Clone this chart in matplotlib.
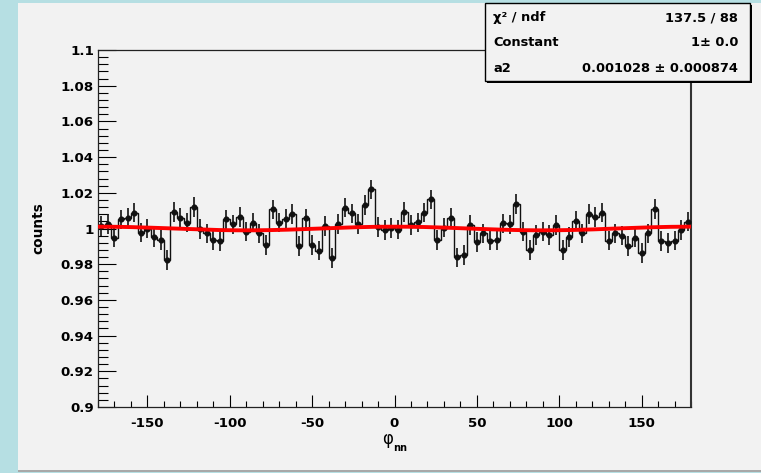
import numpy as np
import matplotlib
matplotlib.use("Agg")
import matplotlib.pyplot as plt
from matplotlib.patches import Rectangle
from matplotlib.ticker import MultipleLocator, FormatStrFormatter

# Histogram of phi_nn: 90 bins of 4 degrees from -180 to 180
bin_edges = np.arange(-180, 181, 4)
counts = [
    1.0014, 1.0025, 0.9949, 1.0051, 1.0061, 1.0089, 0.9977, 1.0000, 0.9950, 0.9936,
    0.9825, 1.0094, 1.0061, 1.0033, 1.0122, 0.9996, 0.9973, 0.9936, 0.9930, 1.0051,
    1.0023, 1.0066, 0.9983, 1.0033, 0.9973, 0.9908, 1.0107, 1.0033, 1.0052, 1.0081,
    0.9902, 1.0057, 0.9908, 0.9876, 1.0014, 0.9833, 1.0025, 1.0117, 1.0085, 1.0025,
    1.0132, 1.0219, 1.0007, 0.9992, 1.0003, 0.9994, 1.0094, 1.0020, 1.0034, 1.0089,
    1.0163, 0.9936, 1.0005, 1.0061, 0.9838, 0.9851, 1.0020, 0.9926, 0.9973, 0.9932,
    0.9936, 1.0029, 1.0023, 1.0137, 0.9983, 0.9880, 0.9964, 0.9983, 0.9964, 1.0020,
    0.9880, 0.9954, 1.0044, 0.9973, 1.0081, 1.0066, 1.0089, 0.9932, 0.9973, 0.9960,
    0.9902, 0.9949, 0.9861, 0.9973, 1.0109, 0.9930, 0.9917, 0.9932, 0.9992, 1.0039,
]
bin_error = 0.0055

# Fit result: Constant + a2*cos(2 phi)
fit_constant = 1.0
fit_a2 = 0.001028
fit_a2_err = 0.000874
chi2 = 137.5
ndf = 88

W, H = 761, 473
BG_OUTER = "#b6dfe3"
BG_PANEL = "#f2f2f2"

plt.rcParams["font.family"] = ["DejaVu Sans"]
plt.rcParams["axes.unicode_minus"] = False

fig = plt.figure(figsize=(W / 100, H / 100), dpi=100)
fig.patch.set_facecolor(BG_OUTER)

# canvas panel (pixel coordinates)
bg = fig.add_axes([0, 0, 1, 1], zorder=-5)
bg.set_xlim(0, W)
bg.set_ylim(H, 0)
bg.axis("off")
bg.add_patch(Rectangle((18, 3), W - 18, 467, facecolor=BG_PANEL, edgecolor="none"))
bg.add_patch(Rectangle((18, 469.5), W - 18, 2, facecolor="#a8a8a8", edgecolor="none"))

# main frame
ax = fig.add_axes([98 / W, 1 - 407 / H, (691 - 98) / W, (407 - 50) / H])
ax.set_facecolor(BG_PANEL)

centers = 0.5 * (bin_edges[:-1] + bin_edges[1:])
ax.stairs(counts, bin_edges, baseline=None, color="#111111", lw=1.0, zorder=2)
ax.errorbar(centers, counts, yerr=bin_error, fmt="o", ms=3.4, color="#111111",
            ecolor="#111111", elinewidth=1.2, capsize=0, zorder=3)

phi = np.linspace(-180, 180, 721)
ax.plot(phi, fit_constant + fit_a2 * np.cos(np.deg2rad(2 * phi)),
        color="#ff0000", lw=2.8, zorder=4)

ax.set_xlim(-180, 180)
ax.set_ylim(0.9, 1.1)

ax.xaxis.set_major_locator(MultipleLocator(50))
ax.xaxis.set_minor_locator(MultipleLocator(10))
ax.yaxis.set_major_locator(MultipleLocator(0.02))
ax.yaxis.set_minor_locator(MultipleLocator(0.004))
ax.yaxis.set_major_formatter(FormatStrFormatter("%g"))

ax.tick_params(axis="x", which="major", direction="in", length=8.6, width=0.8,
               pad=7, labelsize=9.6, top=False)
ax.tick_params(axis="x", which="minor", direction="in", length=4.0, width=0.8, top=False)
ax.tick_params(axis="y", which="major", direction="in", length=13, width=0.8,
               pad=3, labelsize=9.6, right=False)
ax.tick_params(axis="y", which="minor", direction="in", length=7, width=0.8, right=False)
for lab in ax.get_xticklabels() + ax.get_yticklabels():
    lab.set_fontweight("bold")

for side in ["left", "bottom", "top"]:
    ax.spines[side].set_linewidth(0.9)
    ax.spines[side].set_color("#222222")
ax.spines["right"].set_linewidth(1.5)
ax.spines["right"].set_color("#333333")

# overlay: axis titles and statistics box (pixel coordinates)
ov = fig.add_axes([0, 0, 1, 1], zorder=10)
ov.set_xlim(0, W)
ov.set_ylim(H, 0)
ov.axis("off")
ov.patch.set_alpha(0)

ov.text(38, 228, "counts", rotation=90, ha="center", va="center",
        fontsize=9.8, fontweight="bold")
ov.text(388, 439, "φ", ha="center", va="center", fontsize=12)
ov.text(400, 448, "nn", ha="center", va="center", fontsize=7, fontweight="bold")

bx0, by0, bx1, by1 = 485, 3, 750, 81
ov.add_patch(Rectangle((bx0 + 2, by0 + 2), bx1 - bx0, by1 - by0,
                       facecolor="black", edgecolor="none"))
ov.add_patch(Rectangle((bx0, by0), bx1 - bx0, by1 - by0,
                       facecolor=BG_PANEL, edgecolor="black", lw=1.0))

rows = [
    ("χ² / ndf", f"{chi2:g} / {ndf}", 18),
    ("Constant", f"{fit_constant:g}± 0.0", 43),
    ("a2", f"{fit_a2:.6f} ± {fit_a2_err:.6f}", 68),
]
for left, right, y in rows:
    ov.text(493, y, left, ha="left", va="center", fontsize=9.4, fontweight="bold")
    ov.text(738, y, right, ha="right", va="center", fontsize=9.4, fontweight="bold")

fig.savefig("out.png", dpi=100, facecolor=fig.get_facecolor())
